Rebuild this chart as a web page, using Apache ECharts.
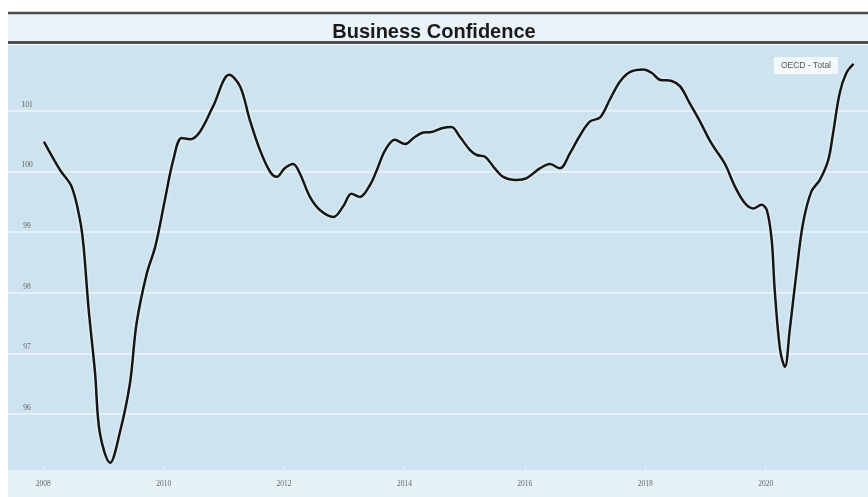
<!DOCTYPE html>
<html>
<head>
<meta charset="utf-8">
<script src="https://cdn.jsdelivr.net/npm/echarts@6/dist/echarts.min.js"></script>
<style>
  html, body { margin: 0; padding: 0; background: #ffffff; }
  #chart { width: 868px; height: 497px; }
</style>
</head>
<body>
<div id="chart"></div>
<script>
// Decimal years
const years = [2008.01, 2008.28, 2008.47, 2008.61, 2008.67, 2008.75, 2008.86, 2008.94, 2009.11, 2009.27,
  2009.44, 2009.55, 2009.72, 2009.86, 2010.02, 2010.16, 2010.30, 2010.44, 2010.60, 2010.82,
  2011.09, 2011.27, 2011.43, 2011.60, 2011.77, 2011.88, 2012.01, 2012.15, 2012.26, 2012.43,
  2012.60, 2012.82, 2012.98, 2013.12, 2013.26, 2013.43, 2013.54, 2013.68, 2013.84, 2014.01,
  2014.15, 2014.31, 2014.45, 2014.62, 2014.78, 2014.92, 2015.09, 2015.20, 2015.34, 2015.50,
  2015.64, 2015.86, 2016.03, 2016.25, 2016.42, 2016.58, 2016.75, 2016.92, 2017.08, 2017.25,
  2017.41, 2017.58, 2017.75, 2017.97, 2018.11, 2018.24, 2018.44, 2018.58, 2018.74, 2018.91,
  2019.10, 2019.32, 2019.49, 2019.66, 2019.80, 2019.93, 2020.02, 2020.10, 2020.15, 2020.24,
  2020.32, 2020.40, 2020.51, 2020.62, 2020.76, 2020.90, 2021.04, 2021.12, 2021.23, 2021.34,
  2021.46];
// OECD - Total business confidence index
const oecdTotal = [100.49, 100.02, 99.75, 99.20, 98.76, 97.77, 96.68, 95.69, 95.20, 95.69,
  96.51, 97.50, 98.32, 98.76, 99.53, 100.19, 100.55, 100.53, 100.65, 101.07,
  101.59, 101.40, 100.85, 100.35, 99.99, 99.91, 100.05, 100.12, 99.97, 99.58,
  99.36, 99.25, 99.42, 99.63, 99.58, 99.78, 100.02, 100.35, 100.52, 100.45,
  100.55, 100.64, 100.65, 100.71, 100.73, 100.57, 100.35, 100.27, 100.24, 100.05,
  99.91, 99.86, 99.89, 100.05, 100.12, 100.05, 100.30, 100.60, 100.82, 100.89,
  101.18, 101.48, 101.64, 101.68, 101.62, 101.51, 101.49, 101.40, 101.12, 100.82,
  100.46, 100.13, 99.75, 99.47, 99.39, 99.45, 99.36, 98.87, 98.05, 97.06,
  96.78, 97.39, 98.32, 99.14, 99.67, 99.86, 100.19, 100.63, 101.29, 101.62,
  101.77];
const xTicks = [2008, 2010, 2012, 2014, 2016, 2018, 2020];
const yTicks = [96, 97, 98, 99, 100, 101];
const seriesName = 'OECD - Total';
const chartTitle = 'Business Confidence';

const chart = echarts.init(document.getElementById('chart'), null, { renderer: 'canvas' });

const option = {
  backgroundColor: '#ffffff',
  animation: false,
  title: {
    text: chartTitle,
    left: 'center',
    top: 17,
    textStyle: {
      fontFamily: '"Liberation Sans Narrow", "Arial Narrow", "Liberation Sans", sans-serif',
      fontWeight: 'bold',
      fontSize: 20,
      color: '#1a1a1a'
    }
  },
  graphic: [
    { type: 'rect', shape: { x: 8, y: 13, width: 860, height: 30 }, style: { fill: '#e9f3f9' }, z: -1 },
    { type: 'line', shape: { x1: 8, y1: 13, x2: 868, y2: 13 }, style: { stroke: '#4d4d4d', lineWidth: 2.5 } },
    { type: 'line', shape: { x1: 8, y1: 42.5, x2: 868, y2: 42.5 }, style: { stroke: '#4d4d4d', lineWidth: 3 } },
    { type: 'rect', shape: { x: 8, y: 470, width: 860, height: 27 }, style: { fill: '#e7f1f8' }, z: -1 }
  ],
  legend: {
    data: [{ name: seriesName, icon: 'none' }],
    right: 30,
    top: 57,
    itemWidth: 0,
    itemHeight: 0,
    padding: [4, 7, 4, 2],
    backgroundColor: 'rgba(255,255,255,0.75)',
    textStyle: { fontSize: 8.5, color: '#555', fontFamily: '"Liberation Sans", sans-serif' }
  },
  grid: {
    left: 8, right: 0, top: 45, bottom: 27,
    show: true,
    backgroundColor: '#cde3ef',
    borderWidth: 0
  },
  xAxis: {
    type: 'value',
    min: 2007.414,
    max: 2021.70,
    axisLine: { show: false },
    axisTick: { show: true, inside: true, length: 3, customValues: xTicks, lineStyle: { color: '#eef5fa', width: 1 } },
    axisLabel: {
      customValues: xTicks,
      margin: 10,
      fontSize: 7.5,
      color: '#666',
      fontFamily: '"Liberation Serif", serif',
      formatter: v => String(v)
    },
    splitLine: { show: false }
  },
  yAxis: {
    type: 'value',
    min: 95.081,
    max: 102.082,
    axisLine: { show: false },
    axisTick: { show: false, customValues: yTicks },
    axisLabel: {
      customValues: yTicks,
      inside: true,
      margin: 19,
      align: 'center',
      verticalAlign: 'bottom',
      padding: [0, 0, 2, 0],
      fontSize: 7.5,
      color: '#666',
      fontFamily: '"Liberation Serif", serif',
      formatter: v => String(v)
    },
    splitLine: { show: true, lineStyle: { color: '#e6f0f6', width: 2 } }
  },
  series: [{
    name: seriesName,
    type: 'line',
    data: years.map((y, i) => [y, oecdTotal[i]]),
    smooth: 0.35,
    showSymbol: false,
    lineStyle: {
      color: '#161616',
      width: 2.5,
      shadowColor: 'rgba(255,255,255,0.9)',
      shadowBlur: 3
    },
    itemStyle: { color: '#161616' }
  }]
};

chart.setOption(option);
</script>
</body>
</html>
